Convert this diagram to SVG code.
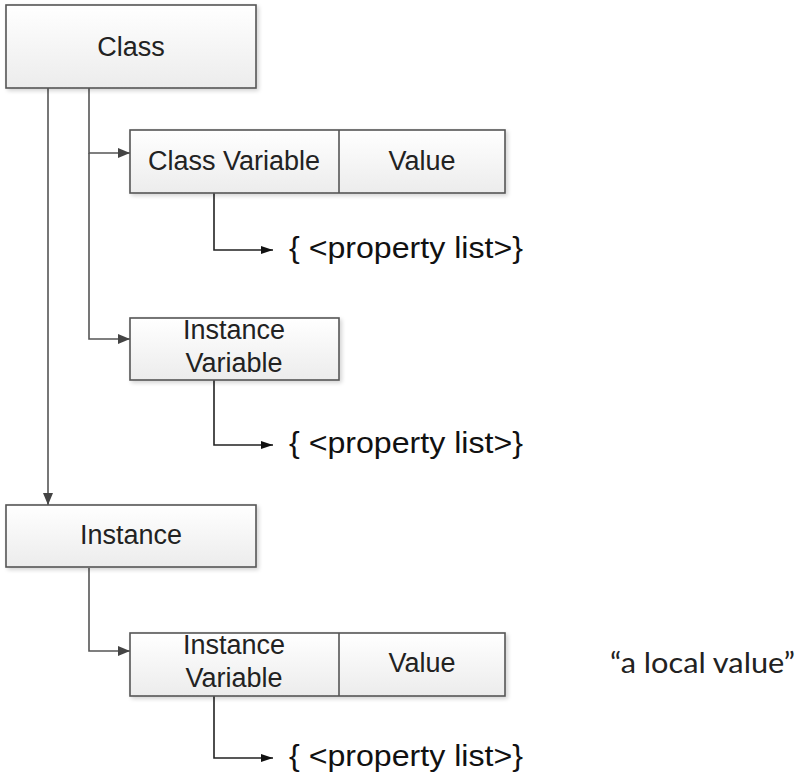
<svg xmlns="http://www.w3.org/2000/svg" width="803" height="778" viewBox="0 0 803 778">
  <defs>
    <linearGradient id="boxFill" x1="0" y1="0" x2="0" y2="1">
      <stop offset="0" stop-color="#ffffff"/>
      <stop offset="1" stop-color="#ececec"/>
    </linearGradient>
    <filter id="shadow" x="-5%" y="-10%" width="115%" height="130%">
      <feGaussianBlur in="SourceAlpha" stdDeviation="2"/>
      <feOffset dx="2" dy="2" result="b"/>
      <feComponentTransfer><feFuncA type="linear" slope="0.18"/></feComponentTransfer>
      <feMerge><feMergeNode/><feMergeNode in="SourceGraphic"/></feMerge>
    </filter>
    <marker id="arrowGray" viewBox="0 0 12 10" refX="12" refY="5" markerWidth="12" markerHeight="10" markerUnits="userSpaceOnUse" orient="auto">
      <path d="M0,0 L12,5 L0,10 Z" fill="#444"/>
    </marker>
    <marker id="arrowDark" viewBox="0 0 12 8" refX="12" refY="4" markerWidth="12" markerHeight="8" markerUnits="userSpaceOnUse" orient="auto">
      <path d="M0,0 L12,4 L0,8 Z" fill="#111"/>
    </marker>
  </defs>
  <style>
    .box { fill: url(#boxFill); stroke: #555; stroke-width: 1.6; filter: url(#shadow); }
    .div { stroke: #555; stroke-width: 1.6; }
    .lbl { font-family: "Liberation Sans", Arial, sans-serif; font-size: 27px; fill: #222; text-anchor: middle; }
    .plist { font-family: "Liberation Sans", Arial, sans-serif; font-size: 29px; fill: #111; }
    .note { font-family: Lato, "Open Sans", sans-serif; font-size: 28px; fill: #222; }
    .conn { fill: none; stroke: #555; stroke-width: 1.6; marker-end: url(#arrowGray); }
    .conn2 { fill: none; stroke: #222; stroke-width: 1.6; marker-end: url(#arrowDark); }
  </style>

  <!-- connectors -->
  <g id="connectors">
    <path class="conn" d="M48,88 V505"/>
    <path class="conn" d="M89,88 V153 H130"/>
    <path class="conn" d="M89,153 V339 H130"/>
    <path class="conn" d="M89,568 V651 H130"/>
    <path class="conn2" d="M214,193 V250 H273"/>
    <path class="conn2" d="M214,380 V445 H273"/>
    <path class="conn2" d="M214,696 V758 H273"/>
  </g>

  <g id="class">
    <rect class="box" x="6" y="5" width="250" height="83"/>
    <text class="lbl" x="131" y="56">Class</text>
  </g>

  <g id="class-variable">
    <rect class="box" x="130" y="130" width="375" height="63"/>
    <line class="div" x1="339" y1="130" x2="339" y2="193"/>
    <text class="lbl" x="234" y="170">Class Variable</text>
    <text class="lbl" x="422" y="170">Value</text>
  </g>

  <g id="class-variable-props">
    <text class="plist" x="289" y="258" textLength="234" lengthAdjust="spacingAndGlyphs">{ &lt;property list&gt;}</text>
  </g>

  <g id="instance-variable">
    <rect class="box" x="130" y="318" width="209" height="62"/>
    <text class="lbl" x="234" y="339">Instance</text>
    <text class="lbl" x="234" y="372">Variable</text>
  </g>

  <g id="instance-variable-props">
    <text class="plist" x="289" y="453" textLength="234" lengthAdjust="spacingAndGlyphs">{ &lt;property list&gt;}</text>
  </g>

  <g id="instance">
    <rect class="box" x="6" y="505" width="250" height="62"/>
    <text class="lbl" x="131" y="544">Instance</text>
  </g>

  <g id="instance-local-variable">
    <rect class="box" x="130" y="633" width="375" height="63"/>
    <line class="div" x1="339" y1="633" x2="339" y2="696"/>
    <text class="lbl" x="234" y="654">Instance</text>
    <text class="lbl" x="234" y="687">Variable</text>
    <text class="lbl" x="422" y="672">Value</text>
  </g>

  <g id="instance-local-props">
    <text class="plist" x="289" y="766" textLength="234" lengthAdjust="spacingAndGlyphs">{ &lt;property list&gt;}</text>
  </g>

  <g id="local-value-note">
    <text class="note" x="610" y="673" textLength="185" lengthAdjust="spacingAndGlyphs">“a local value”</text>
  </g>
</svg>
